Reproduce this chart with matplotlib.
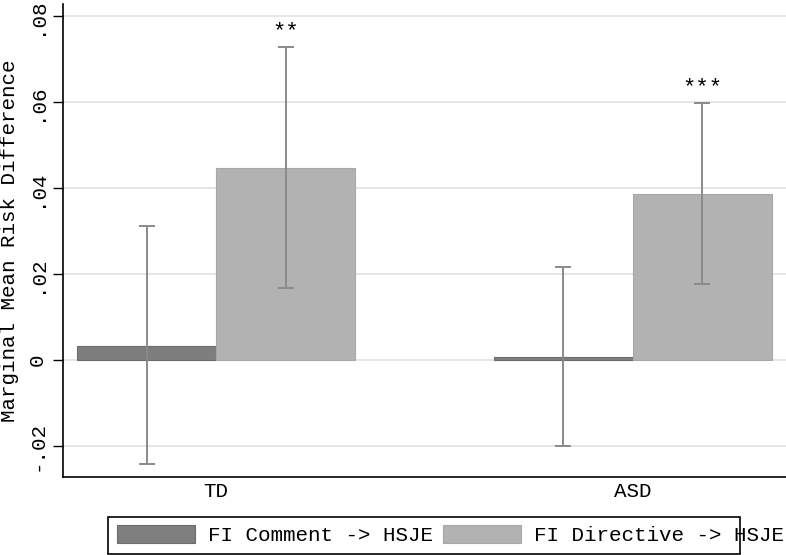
import matplotlib
matplotlib.use("Agg")
import matplotlib.pyplot as plt
from matplotlib.patches import Rectangle
import numpy as np

groups = ["TD", "ASD"]
comment = [0.0033, 0.0007]
comment_lo = [-0.0242, -0.0200]
comment_hi = [0.0312, 0.0216]
directive = [0.0447, 0.0386]
directive_lo = [0.0167, 0.0177]
directive_hi = [0.0728, 0.0598]
stars = ["**", "***"]
yticks = [-0.02, 0, 0.02, 0.04, 0.06, 0.08]
yticklabels = ["-.02", "0", ".02", ".04", ".06", ".08"]

plt.rcParams["font.family"] = ["Liberation Mono", "DejaVu Sans Mono"]
plt.rcParams["font.size"] = 15

fig = plt.figure(figsize=(7.86, 5.55), dpi=100)
ax = fig.add_axes([63 / 786, 78 / 555, 723 / 786, 473 / 555])

x = np.arange(1, len(groups) + 1)
w = 1 / 3
dark = "#7e7e7e"
light = "#b2b2b2"
ebc = "#8a8a8a"

ax.bar(x - w / 2, comment, width=w, color=dark, edgecolor="#6c6c6c", linewidth=0.8,
       zorder=2, label="FI Comment -> HSJE")
ax.bar(x + w / 2, directive, width=w, color=light, edgecolor="#a8a8a8", linewidth=0.8,
       zorder=2, label="FI Directive -> HSJE")

for xs, lo, hi in [(x - w / 2, comment_lo, comment_hi), (x + w / 2, directive_lo, directive_hi)]:
    lo = np.array(lo)
    hi = np.array(hi)
    mid = (lo + hi) / 2
    ax.errorbar(xs, mid, yerr=(hi - lo) / 2, fmt="none", ecolor=ebc, elinewidth=1.4,
                capsize=6, capthick=1.4, zorder=3)

for xi, hi, s in zip(x + w / 2, directive_hi, stars):
    ax.text(xi, hi + 0.0011, s, ha="center", va="bottom", fontsize=16)

ax.set_xlim(0.633, 2.367)
ax.set_ylim(-0.0272, 0.0828)
ax.set_xticks(x)
ax.set_xticklabels(groups)
ax.set_yticks(yticks)
ax.set_yticklabels(yticklabels, rotation=90, va="center")
ax.tick_params(axis="x", length=0, pad=3.5)
ax.tick_params(axis="y", length=7, width=1, pad=5)
ax.yaxis.grid(True, color="#e4e4e4", linewidth=1.3, zorder=0)
ax.set_axisbelow(True)
for side in ["top", "right"]:
    ax.spines[side].set_visible(False)
for side in ["left", "bottom"]:
    ax.spines[side].set_linewidth(1.2)

ax.set_ylabel("Marginal Mean Risk Difference")
ax.yaxis.set_label_coords(-0.0612, 0.5)

fig.legend(loc="center left", bbox_to_anchor=(117 / 786, 20 / 555), ncol=2, frameon=False,
           handlelength=3.75, handleheight=1.0, handletextpad=0.6, columnspacing=0.5,
           borderpad=0, borderaxespad=0)
fig.patches.append(Rectangle((108 / 786, 1.5 / 555), 632 / 786, 37 / 555, transform=fig.transFigure,
                             fill=False, edgecolor="black", linewidth=1.2))

fig.savefig("out.png", dpi=100)
